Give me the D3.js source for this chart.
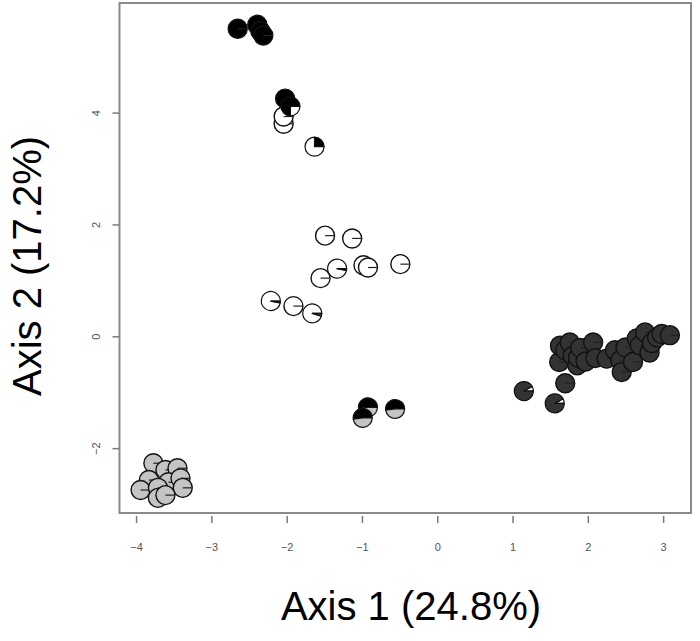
<!DOCTYPE html>
<html>
<head>
<meta charset="utf-8">
<script src="https://cdn.jsdelivr.net/npm/d3@7"></script>
<style>
  body { margin: 0; background: #fff; }
  svg { display: block; }
</style>
</head>
<body>
<svg id="chart" width="700" height="641"></svg>
<script>
// each point: axis1, axis2, then pie shares (black, white, dark grey, light grey)
const blackGroup = [
  [-2.65, 5.50, 1, 0, 0, 0],
  [-2.39, 5.57, 1, 0, 0, 0],
  [-2.35, 5.46, 1, 0, 0, 0],
  [-2.31, 5.38, 1, 0, 0, 0]
];
const mixedGroup = [
  [-2.04, 3.80, 0, 1, 0, 0],
  [-2.04, 3.93, 0, 1, 0, 0],
  [-2.02, 4.25, 1, 0, 0, 0],
  [-1.95, 4.11, 0.75, 0.25, 0, 0],
  [-1.63, 3.39, 0.25, 0.75, 0, 0]
];
const whiteGroup = [
  [-1.49, 1.80, 0, 1, 0, 0],
  [-1.13, 1.75, 0, 1, 0, 0],
  [-1.33, 1.21, 0, 0.97, 0.03, 0],
  [-0.98, 1.27, 0, 1, 0, 0],
  [-0.92, 1.23, 0, 1, 0, 0],
  [-0.49, 1.29, 0, 1, 0, 0],
  [-1.55, 1.04, 0, 1, 0, 0],
  [-2.21, 0.63, 0, 0.97, 0.03, 0],
  [-1.91, 0.54, 0, 1, 0, 0],
  [-1.66, 0.41, 0, 0.95, 0.05, 0]
];
const halfGroup = [
  [-0.92, -1.27, 0.52, 0, 0, 0.48],
  [-0.99, -1.46, 0.52, 0, 0, 0.48],
  [-0.56, -1.30, 0.52, 0, 0, 0.48]
];
const darkGroup = [
  [1.15, -0.98, 0, 0.08, 0.92, 0],
  [1.56, -1.20, 0, 0.08, 0.92, 0],
  [1.70, -0.84, 0, 0, 1, 0],
  [1.62, -0.46, 0, 0, 1, 0],
  [1.63, -0.17, 0, 0, 1, 0],
  [1.70, -0.25, 0, 0, 1, 0],
  [1.76, -0.11, 0, 0, 1, 0],
  [1.80, -0.35, 0, 0, 1, 0],
  [1.86, -0.52, 0, 0, 1, 0],
  [1.87, -0.38, 0, 0, 1, 0],
  [1.90, -0.21, 0, 0, 1, 0],
  [1.97, -0.45, 0, 0, 1, 0],
  [2.07, -0.11, 0, 0, 1, 0],
  [2.10, -0.39, 0, 0, 1, 0],
  [2.25, -0.40, 0, 0, 1, 0],
  [2.36, -0.25, 0, 0, 1, 0],
  [2.43, -0.43, 0, 0, 1, 0],
  [2.45, -0.64, 0, 0, 1, 0],
  [2.50, -0.20, 0, 0, 1, 0],
  [2.60, -0.46, 0, 0, 1, 0],
  [2.65, -0.04, 0, 0, 1, 0],
  [2.69, -0.16, 0, 0, 1, 0],
  [2.76, 0.07, 0, 0, 1, 0],
  [2.82, -0.29, 0, 0, 1, 0],
  [2.85, -0.12, 0, 0, 1, 0],
  [2.92, -0.02, 0, 0, 1, 0],
  [2.98, 0.04, 0, 0, 1, 0],
  [3.09, 0.02, 0, 0, 1, 0]
];
const lightGroup = [
  [-3.77, -2.27, 0, 0, 0, 1],
  [-3.61, -2.39, 0, 0, 0, 1],
  [-3.45, -2.36, 0, 0, 0, 1],
  [-3.83, -2.57, 0, 0, 0, 1],
  [-3.94, -2.75, 0, 0, 0, 1],
  [-3.57, -2.61, 0, 0, 0, 1],
  [-3.41, -2.54, 0, 0, 0, 1],
  [-3.71, -2.71, 0, 0, 0, 1],
  [-3.38, -2.71, 0, 0, 0, 1],
  [-3.71, -2.89, 0, 0, 0, 1],
  [-3.61, -2.84, 0, 0, 0, 1]
];

const sliceColors = ["#000000", "#ffffff", "#333333", "#c4c4c4"];
const xTicks = [-4, -3, -2, -1, 0, 1, 2, 3];
const yTicks = [-2, 0, 2, 4];
const xTitle = "Axis 1 (24.8%)";
const yTitle = "Axis 2 (17.2%)";

const svg = d3.select("#chart");
const box = { left: 119.5, right: 691, top: 3, bottom: 513 };
const font = "Liberation Sans, Arial, sans-serif";

const x = d3.scaleLinear().domain([-4.22, 3.37]).range([box.left, box.right]);
const y = d3.scaleLinear().domain([-3.16, 5.96]).range([box.bottom, box.top]);

// points (drawn before the frame)
const r = 9.5;
// R style pie: start at 3 o'clock, go counter-clockwise
const pie = d3.pie().sort(null).value(d => d)
  .startAngle(Math.PI / 2).endAngle(Math.PI / 2 - 2 * Math.PI);
const arc = d3.arc().innerRadius(0).outerRadius(r);

const allPoints = [].concat(blackGroup, mixedGroup, whiteGroup, halfGroup, darkGroup, lightGroup);

const pts = svg.append("g").selectAll("g.pt")
  .data(allPoints)
  .join("g")
  .attr("class", "pt")
  .attr("transform", d => `translate(${x(d[0])},${y(d[1])})`);

pts.each(function (d) {
  const g = d3.select(this);
  const shares = d.slice(2);
  const slices = pie(shares).map((s, i) => Object.assign(s, { col: sliceColors[i] }))
    .filter(s => s.value > 0);
  if (slices.length === 1) {
    g.append("circle").attr("r", r)
      .attr("fill", slices[0].col)
      .attr("stroke", "#111").attr("stroke-width", 1.4);
    g.append("line").attr("x1", 0).attr("y1", 0).attr("x2", r).attr("y2", 0)
      .attr("stroke", "#222").attr("stroke-width", 1.2);
  } else {
    g.selectAll("path").data(slices).join("path")
      .attr("d", arc)
      .attr("fill", s => s.col)
      .attr("stroke", "#111").attr("stroke-width", 1.2)
      .attr("stroke-linejoin", "round");
  }
});

// frame
svg.append("rect")
  .attr("x", box.left).attr("y", box.top)
  .attr("width", box.right - box.left).attr("height", box.bottom - box.top)
  .attr("fill", "none").attr("stroke", "#8a8a8a").attr("stroke-width", 2);

// x axis
const xAxis = svg.append("g").attr("transform", `translate(0,${box.bottom})`)
  .call(d3.axisBottom(x).tickValues(xTicks).tickSize(10).tickPadding(20).tickFormat(d3.format("d")));
xAxis.select(".domain").remove();
xAxis.selectAll(".tick line").attr("stroke", "#7a7a7a").attr("stroke-width", 1.5).attr("y1", 3);
xAxis.selectAll(".tick text")
  .attr("fill", "#555").attr("font-family", font).attr("font-size", 11);

// y axis
const yAxis = svg.append("g").attr("transform", `translate(${box.left},0)`)
  .call(d3.axisLeft(y).tickValues(yTicks).tickSize(7).tickFormat(d3.format("d")));
yAxis.select(".domain").remove();
yAxis.selectAll(".tick line").attr("stroke", "#7a7a7a").attr("stroke-width", 1.5);
yAxis.selectAll(".tick text")
  .attr("fill", "#555").attr("font-family", font).attr("font-size", 11)
  .attr("x", null)
  .attr("text-anchor", "middle")
  .attr("transform", "translate(-23,0) rotate(-90)")
  .attr("dy", "0.35em");

// titles
svg.append("text")
  .attr("x", 411).attr("y", 620)
  .attr("text-anchor", "middle")
  .attr("font-family", font).attr("font-size", 40)
  .attr("fill", "#000")
  .text(xTitle);

svg.append("text")
  .attr("transform", `translate(41,266) rotate(-90)`)
  .attr("text-anchor", "middle")
  .attr("font-family", font).attr("font-size", 40)
  .attr("fill", "#000")
  .text(yTitle);
</script>
</body>
</html>
